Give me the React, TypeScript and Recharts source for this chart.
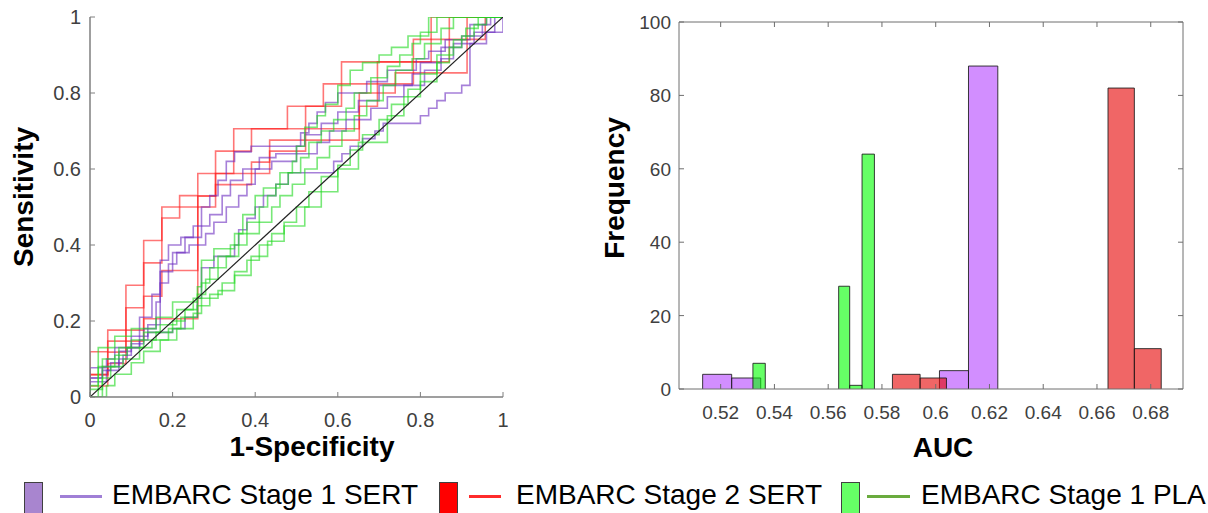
import React from 'react';
import { LineChart, Line, XAxis, YAxis, ComposedChart, Area } from 'recharts';

// tick values
const rocTicks = [0, 0.2, 0.4, 0.6, 0.8, 1];
const aucTicks = [0.52, 0.54, 0.56, 0.58, 0.6, 0.62, 0.64, 0.66, 0.68];
const freqTicks = [0, 20, 40, 60, 80, 100];
const aucDomain = [0.5045, 0.692];

// ROC curves, [1-specificity, sensitivity] where each step rises
const redRoc1 = [[0, 0], [0, 0.119], [0.043, 0.176], [0.087, 0.294], [0.13, 0.412], [0.174, 0.5], [0.217, 0.53], [0.261, 0.588], [0.304, 0.647], [0.348, 0.706], [0.478, 0.765], [0.565, 0.824], [0.609, 0.882], [0.783, 0.941], [0.826, 1], [1, 1]];
const redRoc2 = [[0, 0], [0, 0.059], [0.043, 0.118], [0.087, 0.235], [0.13, 0.353], [0.174, 0.471], [0.217, 0.5], [0.261, 0.529], [0.304, 0.588], [0.348, 0.647], [0.391, 0.706], [0.522, 0.765], [0.609, 0.824], [0.696, 0.882], [0.826, 0.941], [0.87, 1], [1, 1]];
const redRoc3 = [[0, 0], [0, 0.059], [0.043, 0.147], [0.087, 0.176], [0.13, 0.265], [0.174, 0.333], [0.261, 0.5], [0.304, 0.559], [0.391, 0.618], [0.435, 0.647], [0.522, 0.706], [0.652, 0.765], [0.696, 0.824], [0.783, 0.882], [0.87, 0.941], [0.913, 1], [1, 1]];
const redRoc4 = [[0, 0], [0, 0.029], [0.043, 0.088], [0.087, 0.147], [0.13, 0.206], [0.261, 0.529], [0.304, 0.588], [0.435, 0.676], [0.652, 0.8], [0.739, 0.853], [0.913, 0.941], [0.957, 1], [1, 1]];

const purpleRoc1 = [[0, 0], [0, 0.077], [0.04, 0.1], [0.06, 0.13], [0.1, 0.16], [0.12, 0.21], [0.15, 0.27], [0.17, 0.36], [0.19, 0.4], [0.22, 0.42], [0.25, 0.45], [0.27, 0.5], [0.29, 0.53], [0.31, 0.57], [0.33, 0.62], [0.35, 0.645], [0.39, 0.66], [0.51, 0.695], [0.53, 0.72], [0.55, 0.75], [0.57, 0.775], [0.6, 0.8], [0.67, 0.83], [0.72, 0.86], [0.79, 0.89], [0.82, 0.91], [0.86, 0.94], [0.92, 0.98], [0.96, 1], [1, 1]];
const purpleRoc2 = [[0, 0], [0, 0.05], [0.03, 0.08], [0.07, 0.12], [0.1, 0.14], [0.13, 0.18], [0.16, 0.25], [0.17, 0.33], [0.2, 0.38], [0.23, 0.42], [0.27, 0.45], [0.29, 0.48], [0.32, 0.53], [0.34, 0.57], [0.37, 0.6], [0.41, 0.63], [0.45, 0.64], [0.5, 0.66], [0.52, 0.69], [0.56, 0.72], [0.6, 0.75], [0.65, 0.78], [0.7, 0.82], [0.78, 0.85], [0.8, 0.88], [0.85, 0.92], [0.9, 0.95], [0.95, 0.98], [0.97, 1], [1, 1]];
const purpleRoc3 = [[0, 0], [0, 0.04], [0.04, 0.07], [0.07, 0.1], [0.09, 0.13], [0.12, 0.16], [0.14, 0.19], [0.17, 0.3], [0.19, 0.35], [0.21, 0.38], [0.24, 0.4], [0.28, 0.43], [0.3, 0.46], [0.33, 0.5], [0.36, 0.53], [0.38, 0.56], [0.4, 0.6], [0.44, 0.62], [0.5, 0.64], [0.55, 0.67], [0.58, 0.7], [0.62, 0.73], [0.68, 0.76], [0.72, 0.79], [0.76, 0.82], [0.81, 0.86], [0.85, 0.89], [0.88, 0.93], [0.93, 0.96], [0.98, 1], [1, 1]];
const purpleRoc4 = [[0, 0], [0, 0.05], [0.03, 0.07], [0.05, 0.09], [0.08, 0.11], [0.1, 0.13], [0.12, 0.15], [0.14, 0.17], [0.2, 0.18], [0.23, 0.21], [0.26, 0.26], [0.27, 0.34], [0.3, 0.37], [0.35, 0.4], [0.36, 0.44], [0.38, 0.47], [0.4, 0.5], [0.42, 0.53], [0.45, 0.56], [0.48, 0.59], [0.59, 0.62], [0.61, 0.64], [0.63, 0.66], [0.66, 0.68], [0.69, 0.7], [0.71, 0.72], [0.8, 0.74], [0.82, 0.76], [0.84, 0.78], [0.86, 0.8], [0.9, 0.82], [0.92, 0.93], [0.96, 0.96], [1, 1]];

const greenRoc1 = [[0, 0], [0, 0.03], [0.02, 0.13], [0.06, 0.16], [0.1, 0.18], [0.16, 0.21], [0.2, 0.25], [0.26, 0.29], [0.27, 0.36], [0.3, 0.39], [0.35, 0.43], [0.37, 0.48], [0.4, 0.53], [0.42, 0.55], [0.46, 0.59], [0.49, 0.62], [0.5, 0.66], [0.52, 0.71], [0.55, 0.74], [0.57, 0.77], [0.6, 0.82], [0.63, 0.86], [0.66, 0.88], [0.7, 0.9], [0.73, 0.92], [0.77, 0.95], [0.82, 1], [1, 1]];
const greenRoc2 = [[0, 0], [0, 0.02], [0.03, 0.1], [0.07, 0.13], [0.1, 0.15], [0.13, 0.17], [0.17, 0.19], [0.21, 0.23], [0.25, 0.26], [0.27, 0.3], [0.29, 0.34], [0.31, 0.37], [0.34, 0.4], [0.36, 0.43], [0.38, 0.46], [0.41, 0.5], [0.43, 0.53], [0.45, 0.56], [0.48, 0.59], [0.51, 0.63], [0.53, 0.67], [0.56, 0.7], [0.59, 0.73], [0.62, 0.76], [0.64, 0.8], [0.68, 0.84], [0.72, 0.87], [0.75, 0.9], [0.78, 0.93], [0.8, 0.96], [0.84, 1], [1, 1]];
const greenRoc3 = [[0, 0], [0.02, 0.08], [0.06, 0.11], [0.09, 0.13], [0.13, 0.15], [0.16, 0.17], [0.2, 0.2], [0.23, 0.23], [0.26, 0.27], [0.28, 0.31], [0.31, 0.34], [0.33, 0.37], [0.36, 0.4], [0.38, 0.43], [0.41, 0.46], [0.44, 0.5], [0.46, 0.53], [0.49, 0.56], [0.52, 0.6], [0.55, 0.63], [0.58, 0.66], [0.61, 0.7], [0.64, 0.74], [0.67, 0.78], [0.71, 0.82], [0.74, 0.86], [0.78, 0.89], [0.81, 0.93], [0.85, 0.97], [0.88, 1], [1, 1]];
const greenRoc4 = [[0, 0], [0.03, 0.05], [0.05, 0.08], [0.08, 0.1], [0.12, 0.13], [0.15, 0.15], [0.19, 0.18], [0.22, 0.21], [0.26, 0.24], [0.29, 0.27], [0.32, 0.3], [0.35, 0.33], [0.38, 0.36], [0.41, 0.4], [0.44, 0.43], [0.47, 0.46], [0.5, 0.5], [0.53, 0.54], [0.56, 0.58], [0.6, 0.61], [0.63, 0.65], [0.66, 0.69], [0.7, 0.73], [0.73, 0.77], [0.77, 0.81], [0.8, 0.85], [0.84, 0.9], [0.88, 0.94], [0.91, 0.97], [0.94, 1], [1, 1]];
const greenRoc5 = [[0, 0], [0.04, 0.03], [0.06, 0.06], [0.1, 0.09], [0.13, 0.12], [0.17, 0.15], [0.21, 0.18], [0.25, 0.22], [0.27, 0.26], [0.31, 0.28], [0.35, 0.32], [0.39, 0.37], [0.43, 0.41], [0.47, 0.45], [0.52, 0.5], [0.56, 0.54], [0.6, 0.6], [0.65, 0.67], [0.72, 0.74], [0.76, 0.79], [0.8, 0.83], [0.84, 0.88], [0.87, 0.92], [0.9, 0.95], [0.93, 0.98], [0.96, 1], [1, 1]];

const chanceLine = [[0, 0], [1, 1]];

// AUC histograms: bin edges and counts
const purpleBins = [[0.5133, 0.5241], [0.5241, 0.5349], [0.6014, 0.6122], [0.6122, 0.6231]];
const purpleCounts = [4, 3, 5, 88];
const redBins = [[0.5839, 0.5942], [0.5942, 0.604], [0.6641, 0.6739], [0.6739, 0.6839]];
const redCounts = [4, 3, 82, 11];
const greenBins = [[0.532, 0.5366], [0.5639, 0.568], [0.568, 0.5726], [0.5726, 0.5772]];
const greenCounts = [7, 28, 1, 64];

const FONT = '"Liberation Sans", Arial, sans-serif';
const TICK_COLOR = '#404040';

const toPts = (c: number[][]) => c.map(([x, y]) => ({ x, y }));
const binPts = (e: number[], n: number) => [
  { x: e[0], y: 0 }, { x: e[0], y: n }, { x: e[1], y: n }, { x: e[1], y: 0 },
];
const fmt = (v: number) => String(Number(v.toFixed(2)));

// custom ticks: label outside, tick mark inward
const makeLeftTick = (margin: number, size: number, axisColor: string) => (props: any) => {
  const { x, y, payload } = props;
  return (
    <g>
      <text x={x} y={y} dy={7} textAnchor="end" fontSize={size} fill={TICK_COLOR}>{fmt(payload.value)}</text>
      <line x1={x + margin} x2={x + margin + 5} y1={y} y2={y} stroke={axisColor} />
    </g>
  );
};
const makeBottomTick = (margin: number, size: number, dy: number, axisColor: string) => (props: any) => {
  const { x, y, payload } = props;
  return (
    <g>
      <text x={x} y={y} dy={dy} textAnchor="middle" fontSize={size} fill={TICK_COLOR}>{fmt(payload.value)}</text>
      <line x1={x} x2={x} y1={y - margin} y2={y - margin - 5} stroke={axisColor} />
    </g>
  );
};
const TopTick = (props: any) => (
  <line x1={props.x} x2={props.x} y1={props.y} y2={props.y + 5} stroke="#6e6e6e" />
);
const RightTick = (props: any) => (
  <line x1={props.x - 5} x2={props.x} y1={props.y} y2={props.y} stroke="#6e6e6e" />
);

const rocCurves = [
  { c: redRoc1, col: '#ff1a1a' }, { c: redRoc2, col: '#ff1a1a' }, { c: redRoc3, col: '#ff1a1a' }, { c: redRoc4, col: '#ff1a1a' },
  { c: purpleRoc1, col: '#6a2cc0' }, { c: purpleRoc2, col: '#6a2cc0' }, { c: purpleRoc3, col: '#6a2cc0' }, { c: purpleRoc4, col: '#6a2cc0' },
  { c: greenRoc1, col: '#1ed81e' }, { c: greenRoc2, col: '#1ed81e' }, { c: greenRoc3, col: '#1ed81e' }, { c: greenRoc4, col: '#1ed81e' }, { c: greenRoc5, col: '#1ed81e' },
];

const histGroups = [
  { bins: purpleBins, counts: purpleCounts, col: '#b443ff' },
  { bins: redBins, counts: redCounts, col: '#e60000' },
  { bins: greenBins, counts: greenCounts, col: '#00ff00' },
];

const legendItems = [
  { swatchX: 24, fill: '#a885cf', lineX: 60, lineW: 42, line: '#a07fd6', textX: 112, label: 'EMBARC Stage 1 SERT' },
  { swatchX: 439, fill: '#ff0000', lineX: 469, lineW: 32, line: '#ff2b2b', textX: 516, label: 'EMBARC Stage 2 SERT' },
  { swatchX: 841, fill: '#66ff66', lineX: 867, lineW: 43, line: '#6aab3e', textX: 921, label: 'EMBARC Stage 1 PLA' },
];

const axisTitle: React.CSSProperties = {
  position: 'absolute', fontWeight: 'bold', fontSize: 28, lineHeight: 1, whiteSpace: 'nowrap', color: '#000',
};

const LEFT_AXIS = '#7f7f7f';
const BOX = '#6e6e6e';

export default function App() {
  return (
    <div style={{ position: 'absolute', left: 0, top: 0, width: 1208, height: 513, background: '#fff', fontFamily: FONT, overflow: 'hidden' }}>
      <div style={{ position: 'absolute', left: 0, top: 0 }}>
        <LineChart width={560} height={470} margin={{ top: 17, right: 57, left: 30, bottom: 43 }}>
          <XAxis type="number" dataKey="x" domain={[0, 1]} ticks={rocTicks} height={30} allowDataOverflow
            tickSize={0} tickMargin={10} tickLine={false} axisLine={{ stroke: LEFT_AXIS, strokeWidth: 1.5 }}
            tick={makeBottomTick(10, 20, 20, LEFT_AXIS)} interval={0} />
          <YAxis type="number" dataKey="y" domain={[0, 1]} ticks={rocTicks} width={60} allowDataOverflow
            tickSize={0} tickMargin={9} tickLine={false} axisLine={{ stroke: LEFT_AXIS, strokeWidth: 1.5 }}
            tick={makeLeftTick(9, 20, LEFT_AXIS)} interval={0} />
          {rocCurves.map((r, i) => (
            <Line key={i} data={toPts(r.c)} dataKey="y" type="stepAfter" stroke={r.col} strokeOpacity={0.6}
              strokeWidth={1.6} dot={false} activeDot={false} isAnimationActive={false} />
          ))}
          <Line data={toPts(chanceLine)} dataKey="y" type="linear" stroke="#222" strokeWidth={1.2}
            dot={false} activeDot={false} isAnimationActive={false} />
        </LineChart>
      </div>

      <div style={{ position: 'absolute', left: 600, top: 0 }}>
        <ComposedChart width={608} height={470} margin={{ top: 20, right: 20, left: 19, bottom: 51 }}>
          <XAxis type="number" dataKey="x" domain={aucDomain} ticks={aucTicks} height={30} allowDataOverflow
            tickSize={0} tickMargin={10} tickLine={false} axisLine={{ stroke: BOX }}
            tick={makeBottomTick(10, 19, 19.5, BOX)} interval={0} />
          <XAxis xAxisId="top" orientation="top" type="number" dataKey="x" domain={aucDomain} ticks={aucTicks} height={2}
            allowDataOverflow tickSize={0} tickMargin={0} tickLine={false} axisLine={{ stroke: BOX }} tick={TopTick} interval={0} />
          <YAxis type="number" dataKey="y" domain={[0, 100]} ticks={freqTicks} width={60} allowDataOverflow
            tickSize={0} tickMargin={8} tickLine={false} axisLine={{ stroke: BOX }}
            tick={makeLeftTick(8, 19, BOX)} interval={0} />
          <YAxis yAxisId="r" orientation="right" type="number" dataKey="y" domain={[0, 100]} ticks={freqTicks} width={5}
            allowDataOverflow tickSize={0} tickMargin={0} tickLine={false} axisLine={{ stroke: BOX }} tick={RightTick} interval={0} />
          {histGroups.map((g, gi) => g.bins.map((b, bi) => (
            <Area key={`${gi}-${bi}`} data={binPts(b, g.counts[bi])} dataKey="y" type="linear"
              fill={g.col} fillOpacity={0.6} stroke="#1a1a1a" strokeOpacity={0.85} strokeWidth={1}
              dot={false} activeDot={false} isAnimationActive={false} />
          )))}
        </ComposedChart>
      </div>

      <div style={{ ...axisTitle, left: 24, top: 197, transform: 'translate(-50%, -50%) rotate(-90deg)' }}>Sensitivity</div>
      <div style={{ ...axisTitle, left: 312, top: 447, transform: 'translate(-50%, -50%)' }}>1-Specificity</div>
      <div style={{ ...axisTitle, left: 615, top: 188, transform: 'translate(-50%, -50%) rotate(-90deg)' }}>Frequency</div>
      <div style={{ ...axisTitle, left: 943, top: 448, transform: 'translate(-50%, -50%)' }}>AUC</div>

      {legendItems.map((it) => (
        <React.Fragment key={it.label}>
          <div style={{ position: 'absolute', left: it.swatchX, top: 482, width: 17, height: 36, background: it.fill, border: '1px solid #404040' }} />
          <div style={{ position: 'absolute', left: it.lineX, top: 495, width: it.lineW, height: 3, background: it.line }} />
          <div style={{ position: 'absolute', left: it.textX, top: 481, fontSize: 28, lineHeight: 1, whiteSpace: 'nowrap', color: '#000' }}>{it.label}</div>
        </React.Fragment>
      ))}
    </div>
  );
}
